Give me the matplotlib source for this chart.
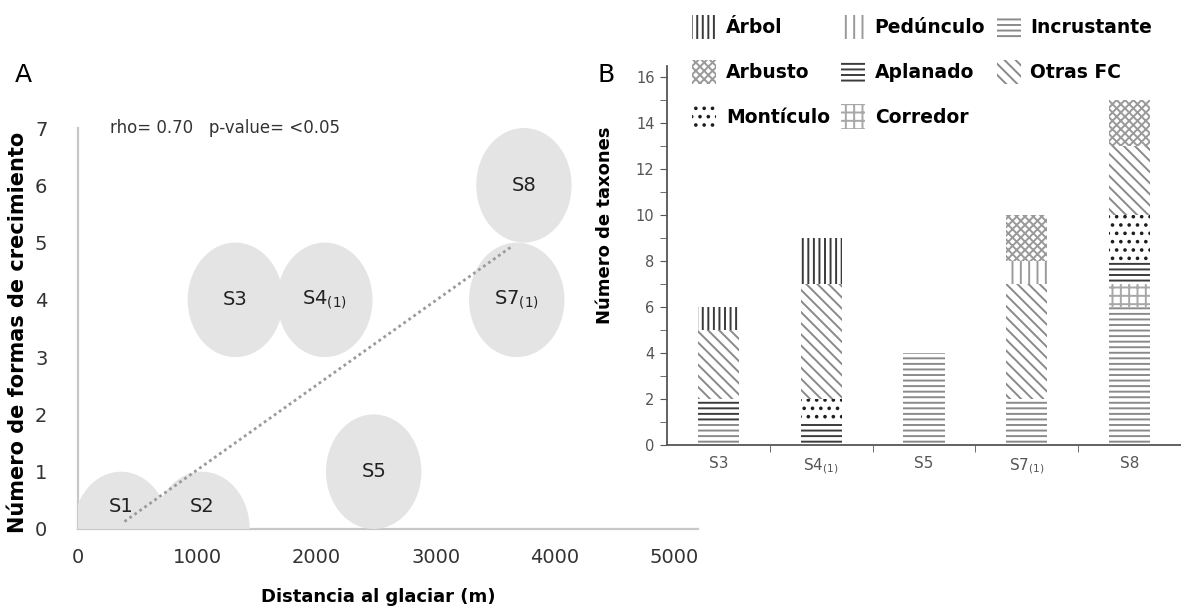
import numpy as np
import matplotlib.pyplot as plt
from matplotlib.patches import Ellipse, Patch

plt.rcParams['font.family'] = ['DejaVu Sans']
plt.rcParams['hatch.linewidth'] = 1.4

# --- A: formas de crecimiento vs distancia al glaciar ---
sitios = ['S1', 'S2', 'S3', 'S4$_{(1)}$', 'S5', 'S7$_{(1)}$', 'S8']
distancia = [360, 1040, 1320, 2070, 2480, 3680, 3740]
n_formas = [0, 0, 4, 4, 1, 4, 6]
tendencia_x = [390, 3650]
tendencia_y = [0.13, 4.95]

# --- B: numero de taxones por forma de crecimiento ---
categorias = ['S3', 'S4$_{(1)}$', 'S5', 'S7$_{(1)}$', 'S8']
incrustante = [1, 0, 4, 2, 6]
corredor = [0, 0, 0, 0, 1]
aplanado = [1, 1, 0, 0, 1]
monticulo = [0, 1, 0, 0, 2]
otras_fc = [3, 5, 0, 5, 3]
pedunculo = [0, 0, 0, 1, 0]
arbol = [1, 2, 0, 0, 0]
arbusto = [0, 0, 0, 2, 2]

# orden de apilado (abajo -> arriba): nombre, valores, hatch, color
series = [
    ('Incrustante', incrustante, '---', '#8a8a8a'),
    ('Corredor', corredor, '++', '#a8a8a8'),
    ('Aplanado', aplanado, '---', '#3c3c3c'),
    ('Montículo', monticulo, '..', '#1e1e1e'),
    ('Otras FC', otras_fc, '\\\\\\', '#8a8a8a'),
    ('Pedúnculo', pedunculo, '||', '#9a9a9a'),
    ('Árbol', arbol, '|||', '#3a3a3a'),
    ('Arbusto', arbusto, 'xxxx', '#9a9a9a'),
]

fig = plt.figure(figsize=(11.81, 6.14), dpi=100)

# panel A
ax1 = fig.add_axes([78 / 1181, 1 - 529 / 614, 620 / 1181, 401 / 614])
ax1.set_facecolor('none')
ax1.set_xlim(0, 5200)
ax1.set_ylim(0, 7)
for x, y, s in zip(distancia, n_formas, sitios):
    ax1.add_patch(Ellipse((x, y), width=800, height=2.0,
                          facecolor='#e4e4e4', edgecolor='none', zorder=3))
    ly = y + 0.4 if y == 0 else y
    ax1.text(x, ly, s, ha='center', va='center', fontsize=14,
             color='#222222', zorder=5)
ax1.plot(tendencia_x, tendencia_y, ls=(0, (1, 1.2)), color='#9a9a9a',
         lw=2, zorder=4)
ax1.set_xticks([0, 1000, 2000, 3000, 4000, 5000])
ax1.set_yticks(range(8))
ax1.tick_params(length=0, labelsize=14, colors='#333333')
ax1.tick_params(axis='x', pad=14)
ax1.tick_params(axis='y', pad=22)
for sp in ['top', 'right']:
    ax1.spines[sp].set_visible(False)
for sp in ['left', 'bottom']:
    ax1.spines[sp].set_color('#c8c8c8')
    ax1.spines[sp].set_linewidth(1.6)
ax1.text(270, 7.0, 'rho= 0.70   p-value= <0.05', fontsize=12,
         va='center', color='#333333')

fig.text(378 / 1181, 1 - 597 / 614, 'Distancia al glaciar (m)',
         ha='center', va='center', fontsize=13, fontweight='bold')
fig.text(18 / 1181, 1 - 332 / 614, 'Número de formas de crecimiento',
         rotation=90, ha='center', va='center', fontsize=15,
         fontweight='bold')

# panel B
ax2 = fig.add_axes([667 / 1181, 1 - 445 / 614, 514 / 1181, 379.5 / 614])
ax2.set_facecolor('none')
pos = np.arange(len(categorias))
bottom = np.zeros(len(categorias))
for nombre, vals, h, c in series:
    ax2.bar(pos, vals, 0.4, bottom=bottom, facecolor='white',
            edgecolor=c, hatch=h, lw=0)
    bottom += np.array(vals)
ax2.set_xlim(-0.5, 4.5)
ax2.set_ylim(0, 16.5)
ax2.set_yticks(range(0, 17, 2))
ax2.set_yticks(range(1, 16, 2), minor=True)
ax2.set_xticks(pos)
ax2.set_xticklabels(categorias)
ax2.set_xticks(pos[:-1] + 0.5, minor=True)
ax2.tick_params(axis='x', which='major', length=0, labelsize=11,
                labelcolor='#555555', pad=8)
ax2.tick_params(axis='x', which='minor', length=5, color='#555555')
ax2.tick_params(axis='y', which='both', length=5, color='#555555',
                labelsize=10.5, labelcolor='#555555', pad=4)
for sp in ['top', 'right']:
    ax2.spines[sp].set_visible(False)
for sp in ['left', 'bottom']:
    ax2.spines[sp].set_color('#555555')
    ax2.spines[sp].set_linewidth(1.3)

fig.text(605 / 1181, 1 - 225 / 614, 'Número de taxones', rotation=90,
         ha='center', va='center', fontsize=13, fontweight='bold')

fig.text(15 / 1181, 1 - 75 / 614, 'A', fontsize=18, va='center')
fig.text(597 / 1181, 1 - 75 / 614, 'B', fontsize=18, va='center')

# leyenda (3 columnas, llenado por columnas)
estilos = {n: (h, c) for n, v, h, c in series}
orden = ['Árbol', 'Arbusto', 'Montículo', 'Pedúnculo', 'Aplanado',
         'Corredor', 'Incrustante', 'Otras FC']
handles = [Patch(facecolor='white', edgecolor=estilos[n][1],
                 hatch=estilos[n][0], lw=0) for n in orden]
fig.legend(handles, orden, ncol=3, loc='upper left',
           bbox_to_anchor=(692 / 1181, 1 - 15 / 614), frameon=False,
           prop={'weight': 'bold', 'size': 13.5}, handlelength=1.3,
           handleheight=1.6, handletextpad=0.5, columnspacing=0.6,
           labelspacing=1.1, borderpad=0, borderaxespad=0)

fig.savefig('out.png', dpi=100)
